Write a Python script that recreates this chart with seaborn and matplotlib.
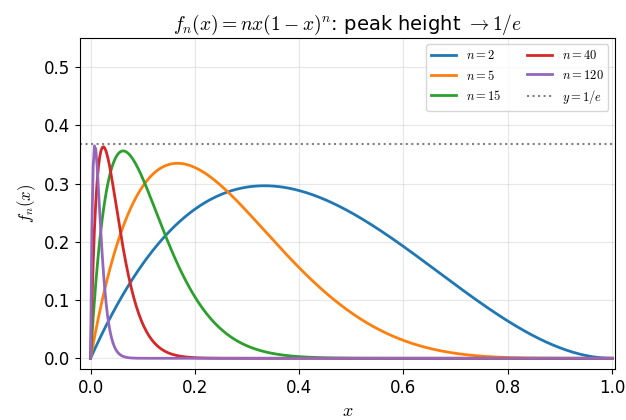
import numpy as np
import pandas as pd
import matplotlib
matplotlib.use("Agg")
import matplotlib.pyplot as plt
import seaborn as sns

# n values shown in the chart
n_values = [2, 5, 15, 40, 120]
colors = sns.color_palette("tab10", 5)
x = np.linspace(0, 1, 400)

plt.rcParams["mathtext.fontset"] = "cm"

rows = []
for n in n_values:
    rows.append(pd.DataFrame({"x": x, "y": n * x * (1 - x) ** n, "n": f"$n = {n}$"}))
df = pd.concat(rows, ignore_index=True)

fig, ax = plt.subplots(figsize=(6.26, 4.2), dpi=100)
sns.lineplot(data=df, x="x", y="y", hue="n", palette=colors, linewidth=2, ax=ax)
ax.axhline(1 / np.e, color="gray", linestyle=":", linewidth=1.5, label="$y = 1/e$")

ax.set_ylim(-0.0184, 0.55)
ax.set_xlim(-0.02, 1.005)
ax.grid(True, alpha=0.3)
ax.set_title("$f_n(x) = nx(1-x)^n$: peak height $\\to 1/e$", fontsize=14)
ax.set_xlabel("$x$", fontsize=13)
ax.set_ylabel("$f_n(x)$", fontsize=12)
ax.tick_params(labelsize=12)
ax.legend(ncol=2, fontsize=9, loc="upper right")

fig.subplots_adjust(left=0.128, right=0.982, top=0.9095, bottom=0.1214)
plt.savefig("out.png")
